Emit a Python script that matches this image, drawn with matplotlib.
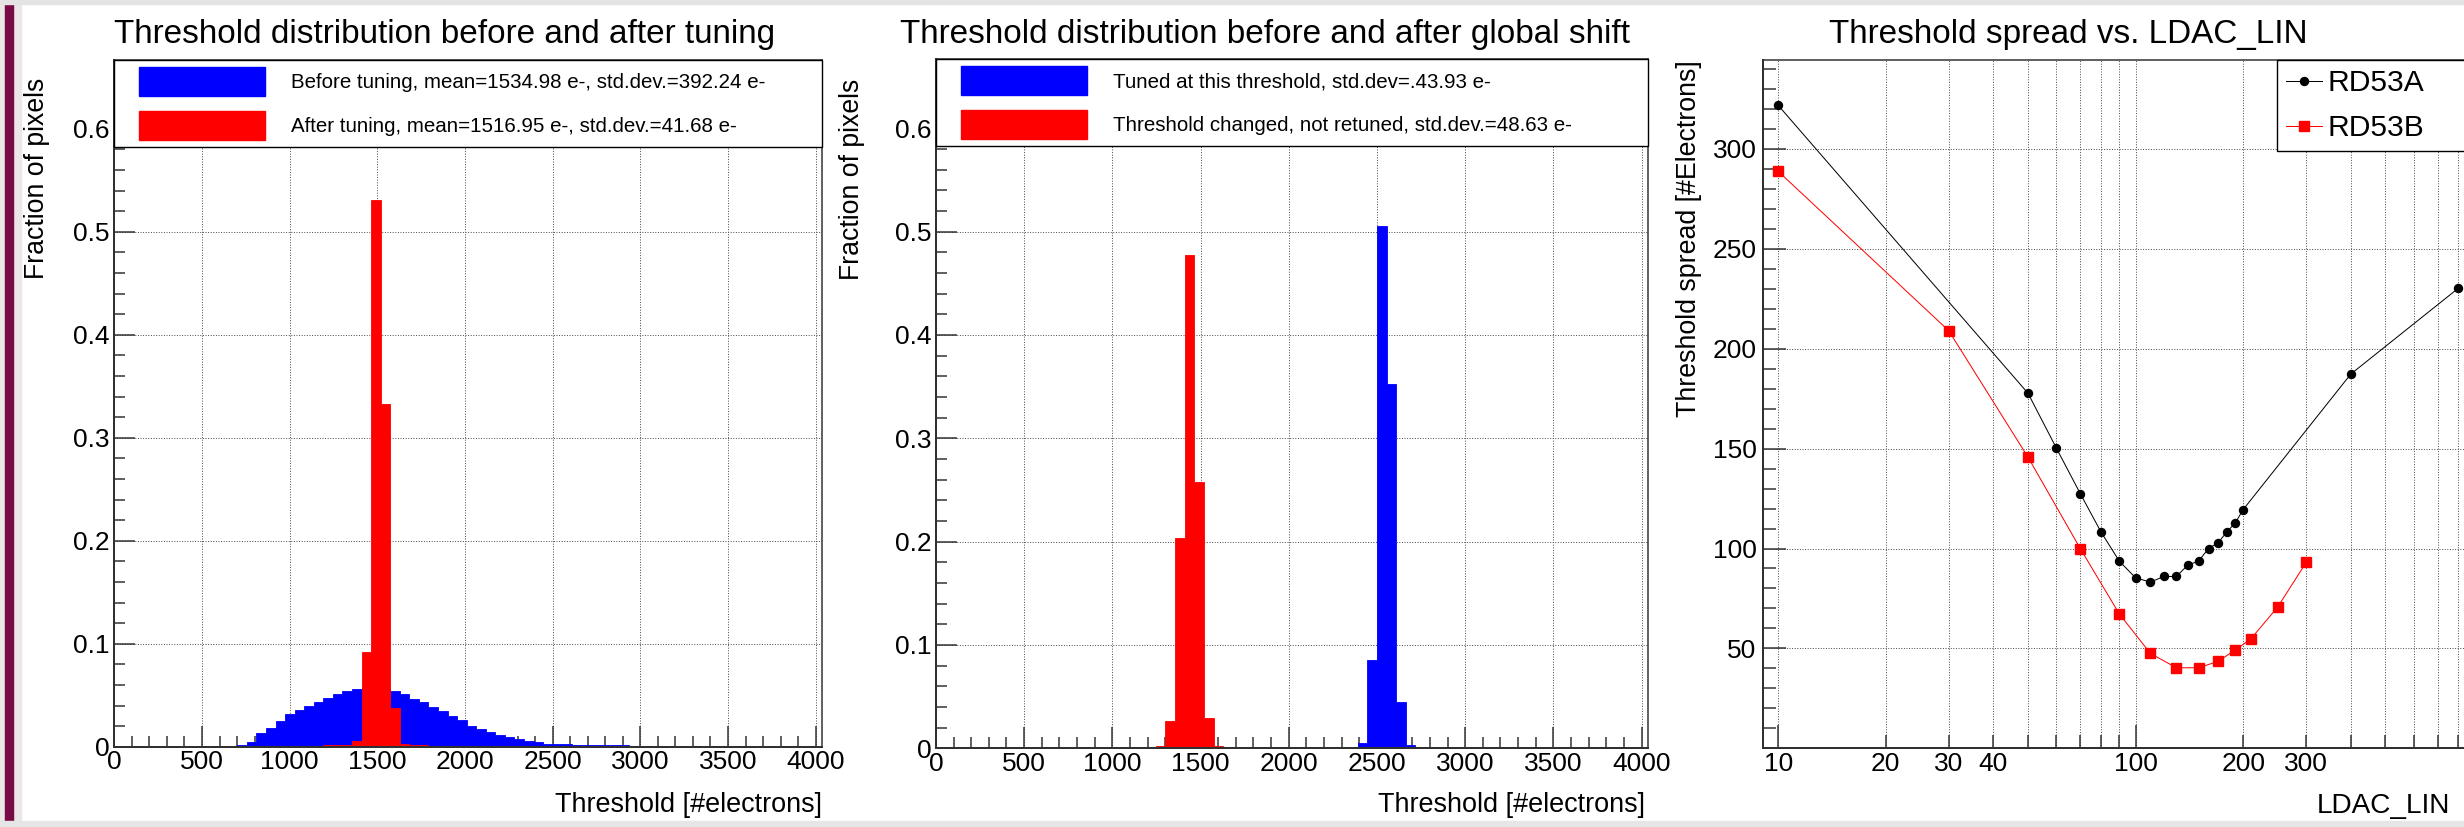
import numpy as np
import matplotlib
matplotlib.use("Agg")
import matplotlib.pyplot as plt
import matplotlib.patches as mpatches
from matplotlib.legend_handler import HandlerPatch
from matplotlib.ticker import FixedLocator, FixedFormatter, FuncFormatter, NullFormatter

plt.rcParams['font.family'] = ['Liberation Sans', 'DejaVu Sans']

# ------------------------------------------------------------------ data
bin_width = 54.5   # histogram bin width [electrons]

before_first_edge = 701.5
before_tuning = [0.0016, 0.0049, 0.0130, 0.0185, 0.0250, 0.0314, 0.0356, 0.0395,
                 0.0434, 0.0476, 0.0508, 0.0541, 0.0563, 0.0575, 0.0580, 0.0565,
                 0.0541, 0.0508, 0.0463, 0.0431, 0.0388, 0.0343, 0.0301, 0.0262,
                 0.0204, 0.0175, 0.0140, 0.0111, 0.0091, 0.0078, 0.0052, 0.0043,
                 0.0029, 0.0023, 0.0022, 0.0021, 0.0016, 0.0013, 0.0013, 0.0012,
                 0.0012, 0.0011, 0.0011, 0.0010, 0.0010, 0.0010, 0.0009, 0.0009,
                 0.0009, 0.0008, 0.0008, 0.0008]

after_first_edge = 1192.0
after_tuning = [0.0012, 0.0012, 0.0014, 0.0052, 0.0916, 0.5308, 0.3327, 0.0379,
                0.0026, 0.0012, 0.0012]

tuned_first_edge = 2227.5
tuned_here = [0.0008, 0.0008, 0.0008, 0.0052, 0.0857, 0.5050, 0.3529, 0.0449,
              0.0028, 0.0010, 0.0010, 0.0010, 0.0010]

changed_first_edge = 1137.5
changed_not_retuned = [0.0010, 0.0010, 0.0022, 0.0260, 0.2036, 0.4775, 0.2580,
                       0.0290, 0.0022, 0.0010, 0.0010, 0.0010]

hist_xticks = [0, 500, 1000, 1500, 2000, 2500, 3000, 3500, 4000]
hist_xminor = list(range(0, 4001, 100))
hist_yticks = [0, 0.1, 0.2, 0.3, 0.4, 0.5, 0.6]
hist_yticklabels = ['0', '0.1', '0.2', '0.3', '0.4', '0.5', '0.6']
hist_yminor = [round(0.02 * i, 2) for i in range(0, 34)]

ldac_A = [10, 50, 60, 70, 80, 90, 100, 110, 120, 130, 140, 150, 160, 170, 180,
          190, 200, 400, 800]
spread_A = [321.8, 177.7, 150.3, 127.5, 108.3, 93.7, 85.3, 83.2, 86.0, 86.0,
            91.7, 93.7, 100.0, 102.8, 108.3, 112.8, 119.5, 187.3, 230.3]
ldac_B = [10, 30, 50, 70, 90, 110, 130, 150, 170, 190, 210, 250, 300]
spread_B = [288.8, 209.0, 145.7, 100.0, 67.3, 47.5, 40.3, 40.3, 43.5, 49.2,
            54.7, 70.8, 93.0]

ldac_major = [10, 100]
ldac_minor = [20, 30, 40, 50, 60, 70, 80, 90, 200, 300, 400, 500, 600, 700, 800]
ldac_labelled = [10, 20, 30, 40, 100, 200, 300]
spread_ticks = [50, 100, 150, 200, 250, 300]
spread_minor = list(range(10, 345, 10))

titles = ["Threshold distribution before and after tuning",
          "Threshold distribution before and after global shift",
          "Threshold spread vs. LDAC_LIN"]
leg1_labels = ["Before tuning, mean=1534.98 e-, std.dev.=392.24 e-",
               "After tuning, mean=1516.95 e-, std.dev.=41.68 e-"]
leg2_labels = ["Tuned at this threshold, std.dev=.43.93 e-",
               "Threshold changed, not retuned, std.dev.=48.63 e-"]
leg3_labels = ["RD53A", "RD53B"]

# ------------------------------------------------------------------ style / layout
W, H, DPI = 2464, 827, 100
PX = 72.0 / DPI  # points per pixel
BLUE, RED = '#0000ff', '#ff0000'
AXC = '#303030'
GRIDC = '#505050'
GRID_LS = (0, (1, 1.6))

fig = plt.figure(figsize=(W / DPI, H / DPI), dpi=DPI, facecolor='white')


def box(x0, y0, x1, y1):
    return [x0 / W, 1 - y1 / H, (x1 - x0) / W, (y1 - y0) / H]


# slide decoration strips
fig.patches.append(mpatches.Rectangle((0, 0), 21 / W, 1, transform=fig.transFigure,
                                      color='#ebe6e7', zorder=0))
fig.patches.append(mpatches.Rectangle((5 / W, 0), 8 / W, 1, transform=fig.transFigure,
                                      color='#7a0a45', zorder=0))
fig.patches.append(mpatches.Rectangle((0, 1 - 4 / H), 1, 4 / H, transform=fig.transFigure,
                                      color='#e4e4e4', zorder=0))
fig.patches.append(mpatches.Rectangle((0, 0), 1, 6 / H, transform=fig.transFigure,
                                      color='#e6e6e6', zorder=0))

ax1 = fig.add_axes(box(114.3, 60, 822, 746.7))
ax2 = fig.add_axes(box(935.9, 59.3, 1648, 748.3))
ax3 = fig.add_axes(box(1762.7, 60, 2473, 748.3))

TICK_FS = 26.4 * PX
LEG_FS = 20.5 * PX


def style_axes(ax, xpad=2.4, ypad=3.1, majlen=21, minlen=11):
    for s in ax.spines.values():
        s.set_color(AXC)
        s.set_linewidth(1.5 * PX)
    ax.spines['bottom'].set_linewidth(2.0 * PX)
    ax.spines['left'].set_linewidth(2.0 * PX)
    ax.tick_params(which='both', direction='in', top=False, right=False,
                   color=AXC, width=1.5 * PX, labelsize=TICK_FS, labelcolor='black')
    ax.tick_params(which='major', length=majlen * PX)
    ax.tick_params(which='minor', length=minlen * PX)
    ax.tick_params(axis='x', which='both', pad=xpad)
    ax.tick_params(axis='y', which='both', pad=ypad)


def offset_rect(legend, orig_handle, xdescent, ydescent, width, height, fontsize):
    off = width * (17.7 / 143.7)
    return mpatches.Rectangle((-xdescent + off, -ydescent), width - off, height)


def hist_panel(ax, series, labels, ylab_coords, xlab_coords, title, title_x):
    for first_edge, vals, col in series:
        edges = first_edge + bin_width * np.arange(len(vals) + 1)
        ax.stairs(vals, edges, fill=True, facecolor=col, edgecolor=col,
                  linewidth=0.6, zorder=2)
    ax.set_xlim(0, 4036)
    ax.set_ylim(0, 0.6667)
    for x in hist_xticks[1:]:
        ax.axvline(x, color=GRIDC, lw=1.0 * PX, ls=GRID_LS, zorder=1)
    for y in hist_yticks[1:]:
        ax.axhline(y, color=GRIDC, lw=1.0 * PX, ls=GRID_LS, zorder=1)
    ax.xaxis.set_major_locator(FixedLocator(hist_xticks))
    ax.xaxis.set_major_formatter(FixedFormatter([str(v) for v in hist_xticks]))
    ax.xaxis.set_minor_locator(FixedLocator(hist_xminor))
    ax.yaxis.set_major_locator(FixedLocator(hist_yticks))
    ax.yaxis.set_major_formatter(FixedFormatter(hist_yticklabels))
    ax.yaxis.set_minor_locator(FixedLocator(hist_yminor))
    ax.xaxis.set_minor_formatter(NullFormatter())
    ax.yaxis.set_minor_formatter(NullFormatter())
    style_axes(ax)
    ax.set_xlabel("Threshold [#electrons]", loc='right', fontsize=27 * PX)
    ax.xaxis.label.set_va('baseline')
    ax.xaxis.set_label_coords(*xlab_coords)
    ax.set_ylabel("Fraction of pixels", loc='top', fontsize=26.6 * PX)
    ax.yaxis.set_label_coords(*ylab_coords)
    handles = [mpatches.Patch(facecolor=s[2], edgecolor=s[2]) for s in series]
    leg = ax.legend(handles, labels, loc='upper left', bbox_to_anchor=(0, 1, 1, 0),
                    mode='expand', borderaxespad=0, fontsize=LEG_FS,
                    handlelength=143.7 / 20.5, handleheight=37 / 20.5,
                    labelspacing=0.707, borderpad=0.34, handletextpad=1.27,
                    fancybox=False, framealpha=1, edgecolor='black',
                    handler_map={mpatches.Patch: HandlerPatch(patch_func=offset_rect)})
    leg.get_frame().set_linewidth(1.4 * PX)
    leg.set_zorder(10)
    fig.text(title_x / W, 1 - 42.7 / H, title, ha='center', va='baseline',
             fontsize=33.3 * PX)


hist_panel(ax1, [(before_first_edge, before_tuning, BLUE),
                 (after_first_edge, after_tuning, RED)],
           leg1_labels, (-0.0904, 0.9738), (1.0, -0.0947), titles[0], 445)
hist_panel(ax2, [(tuned_first_edge, tuned_here, BLUE),
                 (changed_first_edge, changed_not_retuned, RED)],
           leg2_labels, (-0.0996, 0.9714), (0.9958, -0.092), titles[1], 1265.4)

# ------------------------------------------------------------------ panel 3
ax3.set_xscale('log')
ax3.set_xlim(9.05, 879)
ax3.set_ylim(0, 344.5)
for x in ldac_major + ldac_minor:
    ax3.axvline(x, color=GRIDC, lw=1.0 * PX, ls=GRID_LS, zorder=1)
for y in spread_ticks:
    ax3.axhline(y, color=GRIDC, lw=1.0 * PX, ls=GRID_LS, zorder=1)
ax3.plot(ldac_A, spread_A, color='black', lw=1.0 * PX, marker='o',
         markersize=8 * PX, zorder=3, label=leg3_labels[0])
ax3.plot(ldac_B, spread_B, color=RED, lw=1.0 * PX, marker='s',
         markersize=10 * PX, zorder=3, label=leg3_labels[1])
ax3.xaxis.set_major_locator(FixedLocator(ldac_major))
ax3.xaxis.set_major_formatter(FixedFormatter([str(v) for v in ldac_major]))
ax3.xaxis.set_minor_locator(FixedLocator(ldac_minor))
ax3.xaxis.set_minor_formatter(FuncFormatter(
    lambda v, pos: str(int(round(v))) if int(round(v)) in ldac_labelled else ''))
ax3.yaxis.set_major_locator(FixedLocator(spread_ticks))
ax3.yaxis.set_major_formatter(FixedFormatter([str(v) for v in spread_ticks]))
ax3.yaxis.set_minor_locator(FixedLocator(spread_minor))
ax3.yaxis.set_minor_formatter(NullFormatter())
style_axes(ax3, xpad=2.4, ypad=4.5, majlen=23, minlen=13)
ax3.set_xlabel("LDAC_LIN", loc='right', fontsize=28 * PX)
ax3.xaxis.label.set_va('baseline')
ax3.xaxis.set_label_coords(0.9676, -0.094)
ax3.set_ylabel("Threshold spread [#Electrons]", loc='top', fontsize=26.8 * PX)
ax3.yaxis.set_label_coords(-0.0855, 1.0)
leg3 = ax3.legend(loc='upper left',
                  bbox_to_anchor=(2277 / W, 1 - 60 / H, 260 / W, 0),
                  bbox_transform=fig.transFigure, mode='expand', borderaxespad=0,
                  fontsize=30 * PX, handlelength=1.2, handletextpad=0.17,
                  labelspacing=0.57, borderpad=0.3, numpoints=1,
                  fancybox=False, framealpha=1, edgecolor='black')
leg3.get_frame().set_linewidth(1.4 * PX)
leg3.set_zorder(10)
fig.text(2068 / W, 1 - 42.7 / H, titles[2], ha='center', va='baseline',
         fontsize=33.3 * PX)

fig.savefig('out.png', dpi=DPI, facecolor=fig.get_facecolor())
